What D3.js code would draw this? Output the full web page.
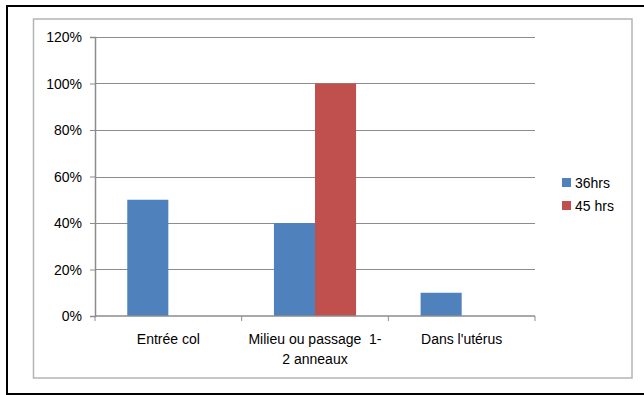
<!DOCTYPE html>
<html>
<head>
<meta charset="utf-8">
<script src="https://cdn.jsdelivr.net/npm/d3@7"></script>
<style>
  body { margin: 0; background: #fff; }
  text { font-family: "Liberation Sans", Arial, sans-serif; fill: #000; }
</style>
</head>
<body>
<div id="chart"></div>
<script>
// Data
const categories = ["Entrée col", "Milieu ou passage  1-\n2 anneaux", "Dans l'utérus"];
const seriesNames = ["36hrs", "45 hrs"];
const values36 = [0.5, 0.4, 0.1];
const values45 = [0, 1.0, 0];
const yTicks = [0, 0.2, 0.4, 0.6, 0.8, 1.0, 1.2];
const colors = ["#4F81BD", "#C0504D"];

const W = 644, H = 395;
const margin = { top: 37, left: 95, right: 109, bottom: 79 };
const plotW = W - margin.left - margin.right;
const plotH = H - margin.top - margin.bottom;
const fontSize = 14;

const svg = d3.select("#chart").append("svg")
    .attr("width", W)
    .attr("height", H);

// Outer frame
svg.append("rect")
    .attr("x", 7).attr("y", 6)
    .attr("width", 645).attr("height", 388)
    .attr("fill", "none")
    .attr("stroke", "#000")
    .attr("stroke-width", 2);

// Inner chart area border
svg.append("rect")
    .attr("x", 33.5).attr("y", 19)
    .attr("width", 598.5).attr("height", 359)
    .attr("fill", "none")
    .attr("stroke", "#b4b4b4")
    .attr("stroke-width", 1.5);

const g = svg.append("g")
    .attr("transform", `translate(${margin.left},${margin.top})`);

// Scales
const x = d3.scaleBand().domain(d3.range(categories.length)).range([0, plotW]).paddingInner(0).paddingOuter(0);
const y = d3.scaleLinear().domain([0, 1.2]).range([plotH, 0]);
const barW = x.bandwidth() * 0.28;
const x1 = d3.scaleBand().domain([0, 1]).range([(x.bandwidth() - 2 * barW) / 2, (x.bandwidth() + 2 * barW) / 2]);

// Gridlines
g.append("g").selectAll("line")
    .data(yTicks.filter(d => d > 0))
    .join("line")
    .attr("x1", 0).attr("x2", plotW)
    .attr("y1", d => Math.round(y(d)) + 0.5)
    .attr("y2", d => Math.round(y(d)) + 0.5)
    .attr("stroke", "#8c8c8c")
    .attr("stroke-width", 1);

// Bars
const series = [values36, values45];
series.forEach((vals, si) => {
    g.append("g").selectAll("rect")
        .data(vals)
        .join("rect")
        .attr("x", (d, i) => x(i) + x1(si))
        .attr("y", d => y(d))
        .attr("width", x1.bandwidth())
        .attr("height", d => plotH - y(d))
        .attr("fill", colors[si]);
});

// Y axis
const yAxis = d3.axisLeft(y)
    .tickValues(yTicks)
    .tickSize(5)
    .tickPadding(8)
    .tickFormat(d3.format(".0%"));
const yg = g.append("g").call(yAxis);
yg.select(".domain").attr("stroke", "#8c8c8c").attr("stroke-width", 1.5);
yg.selectAll(".tick line").attr("stroke", "#8c8c8c");
yg.selectAll(".tick text").attr("font-size", fontSize).attr("dy", "0.35em")
    .attr("font-family", "Liberation Sans, Arial, sans-serif");

// X axis line and ticks at category boundaries
const xg = g.append("g").attr("transform", `translate(0,${plotH})`);
xg.append("line")
    .attr("x1", 0).attr("x2", plotW)
    .attr("y1", 0).attr("y2", 0)
    .attr("stroke", "#8c8c8c").attr("stroke-width", 1.5);
xg.selectAll(".xtick")
    .data(d3.range(categories.length + 1))
    .join("line")
    .attr("class", "xtick")
    .attr("x1", d => d * x.bandwidth()).attr("x2", d => d * x.bandwidth())
    .attr("y1", 0).attr("y2", 5)
    .attr("stroke", "#8c8c8c");

// X labels
categories.forEach((c, i) => {
    const t = xg.append("text")
        .attr("x", x(i) + x.bandwidth() / 2)
        .attr("y", 28)
        .attr("text-anchor", "middle")
        .attr("font-size", fontSize)
        .style("white-space", "pre");
    c.split("\n").forEach((line, li) => {
        t.append("tspan")
            .attr("x", x(i) + x.bandwidth() / 2)
            .attr("dy", li === 0 ? 0 : 20)
            .text(line);
    });
});

// Legend
const legend = svg.append("g").attr("transform", "translate(562,178)");
seriesNames.forEach((name, i) => {
    const row = legend.append("g").attr("transform", `translate(0,${i * 23})`);
    row.append("rect")
        .attr("width", 9).attr("height", 9)
        .attr("fill", colors[i]);
    row.append("text")
        .attr("x", 13).attr("y", 10)
        .attr("font-size", fontSize)
        .text(name);
});
</script>
</body>
</html>
